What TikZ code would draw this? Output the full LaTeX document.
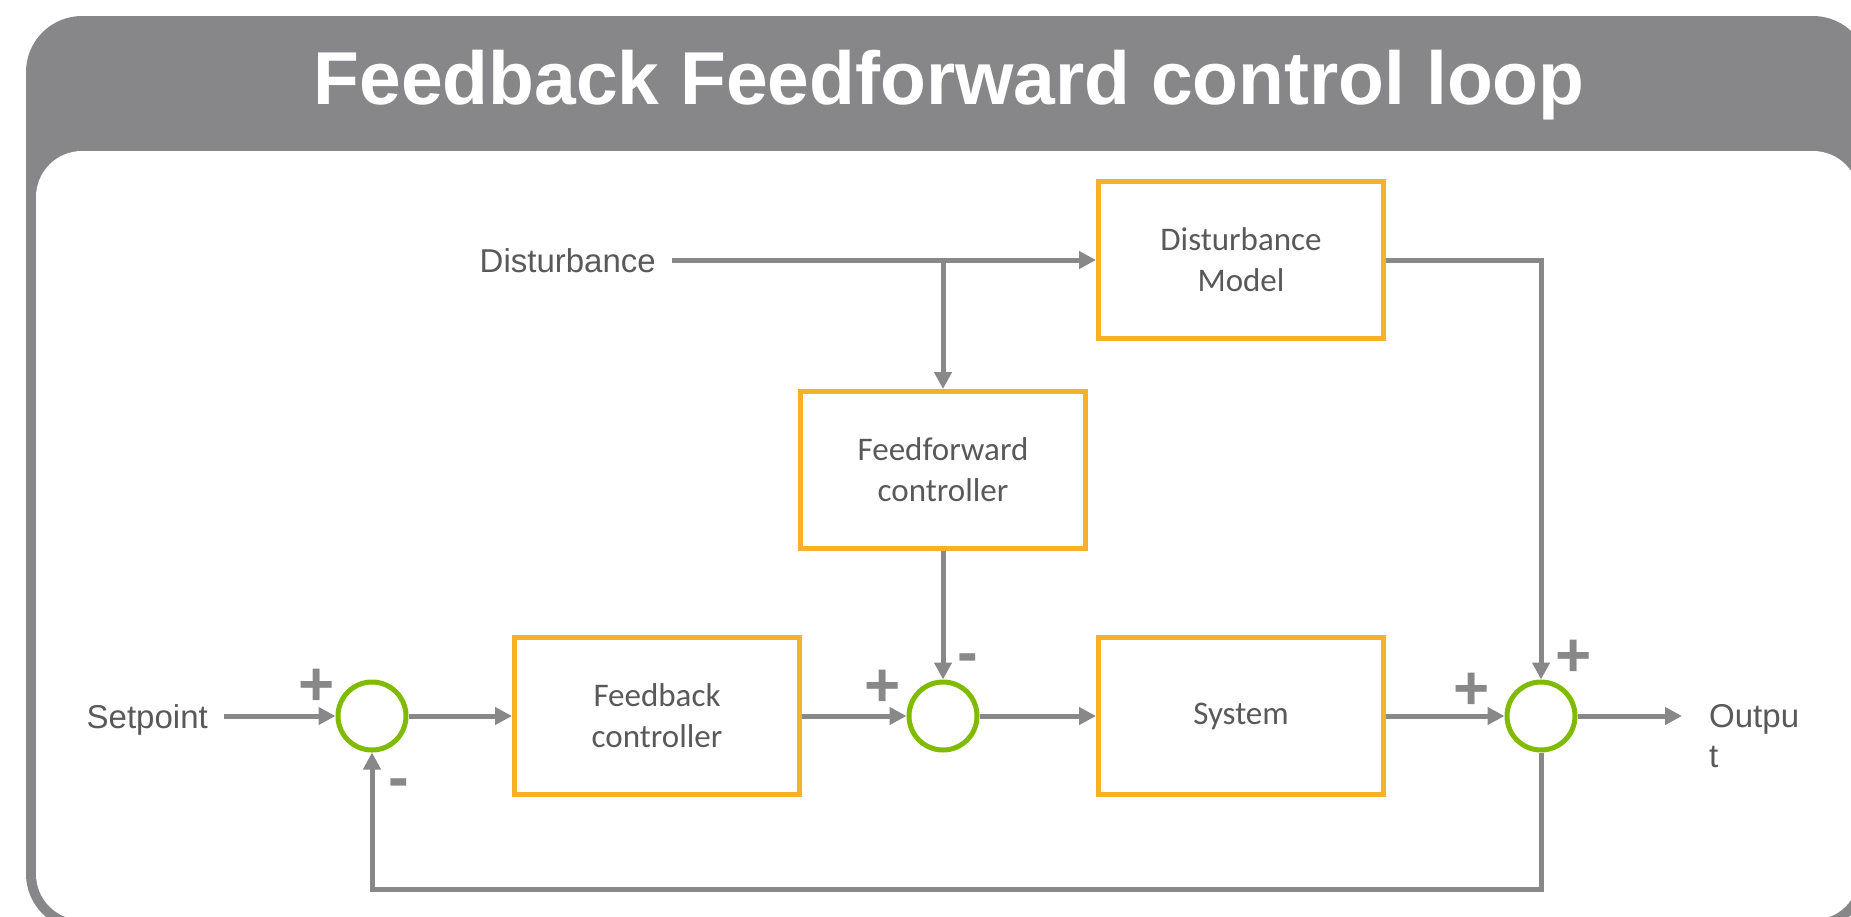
\documentclass[tikz,border=0pt]{standalone}
\usepackage{fontspec}
\setmainfont{Liberation Sans}
\newfontfamily\carlito{Carlito}
\usetikzlibrary{arrows.meta,calc}
\definecolor{framegray}{RGB}{135,135,137}
\definecolor{arrgray}{RGB}{136,136,136}
\definecolor{boxorange}{RGB}{246,177,40}
\definecolor{sumgreen}{RGB}{128,187,0}
\definecolor{txtgray}{RGB}{89,89,89}
\begin{document}
\begin{tikzpicture}[x=1pt,y=-1pt,
  arr/.style={draw=arrgray, line width=5pt, -{Triangle[length=17pt,width=17pt]}},
  blk/.style={draw=boxorange, fill=white, line width=5pt, minimum width=285pt, minimum height=157pt,
    inner sep=0pt, align=center, font=\carlito\fontsize{33}{41}\selectfont, text=txtgray},
  sumj/.style={circle, draw=sumgreen, line width=5pt, minimum size=68pt, inner sep=0pt},
  lbl/.style={font=\fontsize{33}{40}\selectfont, text=txtgray, inner ysep=0pt},
  sign/.style={font=\bfseries\fontsize{62}{62}\selectfont, text=arrgray, inner sep=0pt}]
\useasboundingbox (0,0) rectangle (1851,916);
\clip (0,0) rectangle (1851,916);
% frame
\fill[framegray, rounded corners=56pt] (26,16) rectangle (1869,930);
\fill[white, rounded corners=46pt] (36,151) rectangle (1859,920);
\node[font=\bfseries\fontsize{75}{75}\selectfont, text=white, anchor=base] (title) at (949,104) {Feedback Feedforward control loop};
% blocks
\node[sumj] (c1) at (372,716) {};
\node[sumj] (c2) at (943,716) {};
\node[sumj] (c3) at (1541,716) {};
\node[blk] (fb) at (657,716) {Feedback\\controller};
\node[blk] (ff) at (943,470) {Feedforward\\controller};
\node[blk] (dm) at (1241,260) {Disturbance\\Model};
\node[blk] (sys) at (1241,716) {System};
% labels
\node[lbl, anchor=base east, inner xsep=16pt] (sp) at (224,728) {Setpoint};
\node[lbl, anchor=base east, inner xsep=16pt] (dist) at (672,272) {Disturbance};
\node[lbl, anchor=north west, inner xsep=27pt, align=left] (out) at (1682,704) {Outpu\\t};
% signs
\node[sign] (p1) at (317,687) {+};
\node[sign] (m1) at (399,789) {-};
\node[sign] (p2) at (883,688) {+};
\node[sign] (m2) at (968,664) {-};
\node[sign] (p3) at (1472,691) {+};
\node[sign] (p4) at (1574,658) {+};
% connectors
\draw[arr] (sp.east |- c1.west) -- (c1.west);
\draw[arr] (c1.east) -- (fb.west);
\draw[arr] (fb.east) -- (c2.west);
\draw[arr] (c2.east) -- (sys.west);
\draw[arr] (sys.east) -- (c3.west);
\draw[arr] (c3.east) -- (c3.east -| out.west);
\draw[arr] (dist.east |- dm.west) -- (dm.west);
\coordinate (br) at (ff.north |- dm.west);
\draw[arr] (br) -- (ff.north);
\draw[arr] (ff.south) -- (c2.north);
\draw[arr] (dm.east) -| (c3.north);
\coordinate (loopy) at (0,889);
\draw[arr] (c3.south) -- (c3.south |- loopy) -- (c1.south |- loopy) -- (c1.south);
\end{tikzpicture}
\end{document}
